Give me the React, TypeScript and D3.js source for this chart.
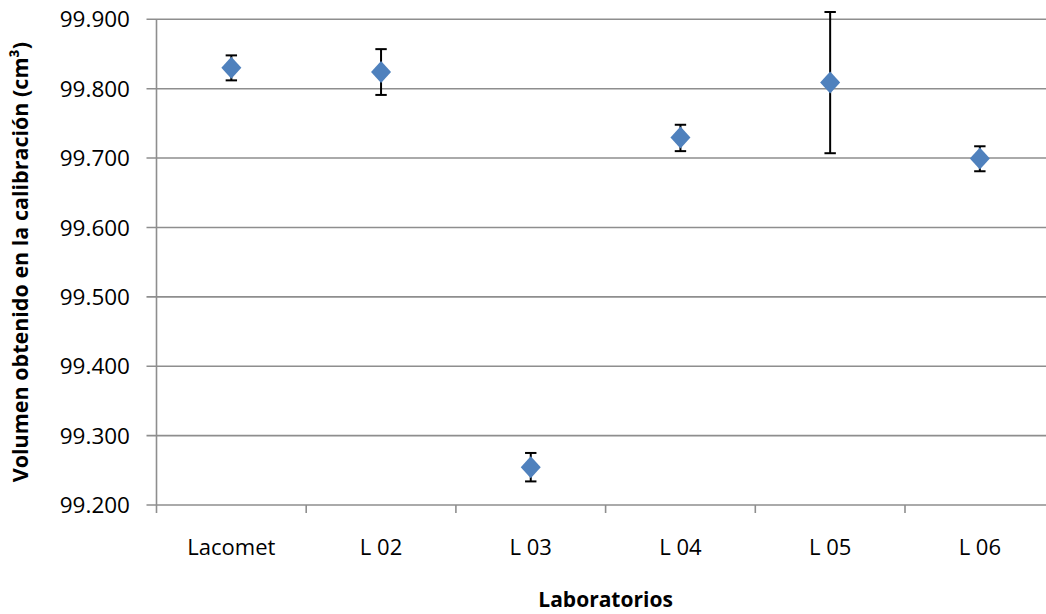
import React from "react";
import * as d3 from "d3";

const categories = ["Lacomet", "L 02", "L 03", "L 04", "L 05", "L 06"];
const values = [99.83, 99.824, 99.2545, 99.7295, 99.809, 99.6995];
const errUpper = [99.848, 99.857, 99.275, 99.748, 99.9105, 99.717];
const errLower = [99.812, 99.791, 99.234, 99.71, 99.707, 99.681];
const yTicks = [99.2, 99.3, 99.4, 99.5, 99.6, 99.7, 99.8, 99.9];
const xTitle = "Laboratorios";
const yTitle = "Volumen obtenido en la calibración (cm³)";

const W = 1046;
const H = 614;
const left = 156.5;
const right = 1054.7;
const top = 19.3;
const bottom = 505;

export default function App() {
  const x = d3.scaleBand<string>().domain(categories).range([left, right]);
  const y = d3.scaleLinear().domain([99.2, 99.9]).range([bottom, top]);
  const grid = "#8e8e8e";
  const font = "'Open Sans', sans-serif";
  const blue = "#4f81bd";
  return (
    <svg
      width={W}
      height={H}
      style={{ position: "absolute", left: 0, top: 0, background: "#fff" }}
      fontFamily={font}
    >
      <defs>
        <clipPath id="clip">
          <rect x={0} y={0} width={W} height={H} />
        </clipPath>
      </defs>
      <g clipPath="url(#clip)">
        {yTicks.map((t) => (
          <g key={t}>
            <line x1={left - 10} x2={right} y1={y(t)} y2={y(t)} stroke={grid} strokeWidth={1.6} />
            <text x={130} y={y(t)} dy="0.36em" textAnchor="end" fontSize={22.5} fill="#000">
              {t.toFixed(3)}
            </text>
          </g>
        ))}
        <line x1={left} x2={left} y1={top} y2={bottom} stroke={grid} strokeWidth={1.6} />
        {categories.map((c, i) => (
          <g key={c}>
            <line
              x1={x(c)!}
              x2={x(c)!}
              y1={bottom}
              y2={bottom + 8}
              stroke={grid}
              strokeWidth={1.6}
            />
            <text
              x={x(c)! + x.bandwidth() / 2}
              y={555}
              textAnchor="middle"
              fontSize={22}
              fill="#000"
            >
              {c}
            </text>
          </g>
        ))}
        {categories.map((c, i) => {
          const cx = x(c)! + x.bandwidth() / 2;
          const cy = y(values[i]);
          const yu = y(errUpper[i]);
          const yl = y(errLower[i]);
          return (
            <g key={"p" + c}>
              <line x1={cx} x2={cx} y1={yu} y2={yl} stroke="#000" strokeWidth={2} />
              <line x1={cx - 5.7} x2={cx + 5.7} y1={yu} y2={yu} stroke="#000" strokeWidth={2} />
              <line x1={cx - 5.7} x2={cx + 5.7} y1={yl} y2={yl} stroke="#000" strokeWidth={2} />
              <polygon
                points={`${cx},${cy - 11} ${cx + 10},${cy} ${cx},${cy + 11} ${cx - 10},${cy}`}
                fill={blue}
              />
            </g>
          );
        })}
        <text
          x={(left + right) / 2}
          y={607}
          textAnchor="middle"
          fontSize={21}
          fontWeight="bold"
          fill="#000"
        >
          {xTitle}
        </text>
        <text
          transform={`translate(28, ${(top + bottom) / 2}) rotate(-90)`}
          textAnchor="middle"
          fontSize={21.5}
          fontWeight="bold"
          fill="#000"
        >
          {yTitle}
        </text>
      </g>
    </svg>
  );
}
